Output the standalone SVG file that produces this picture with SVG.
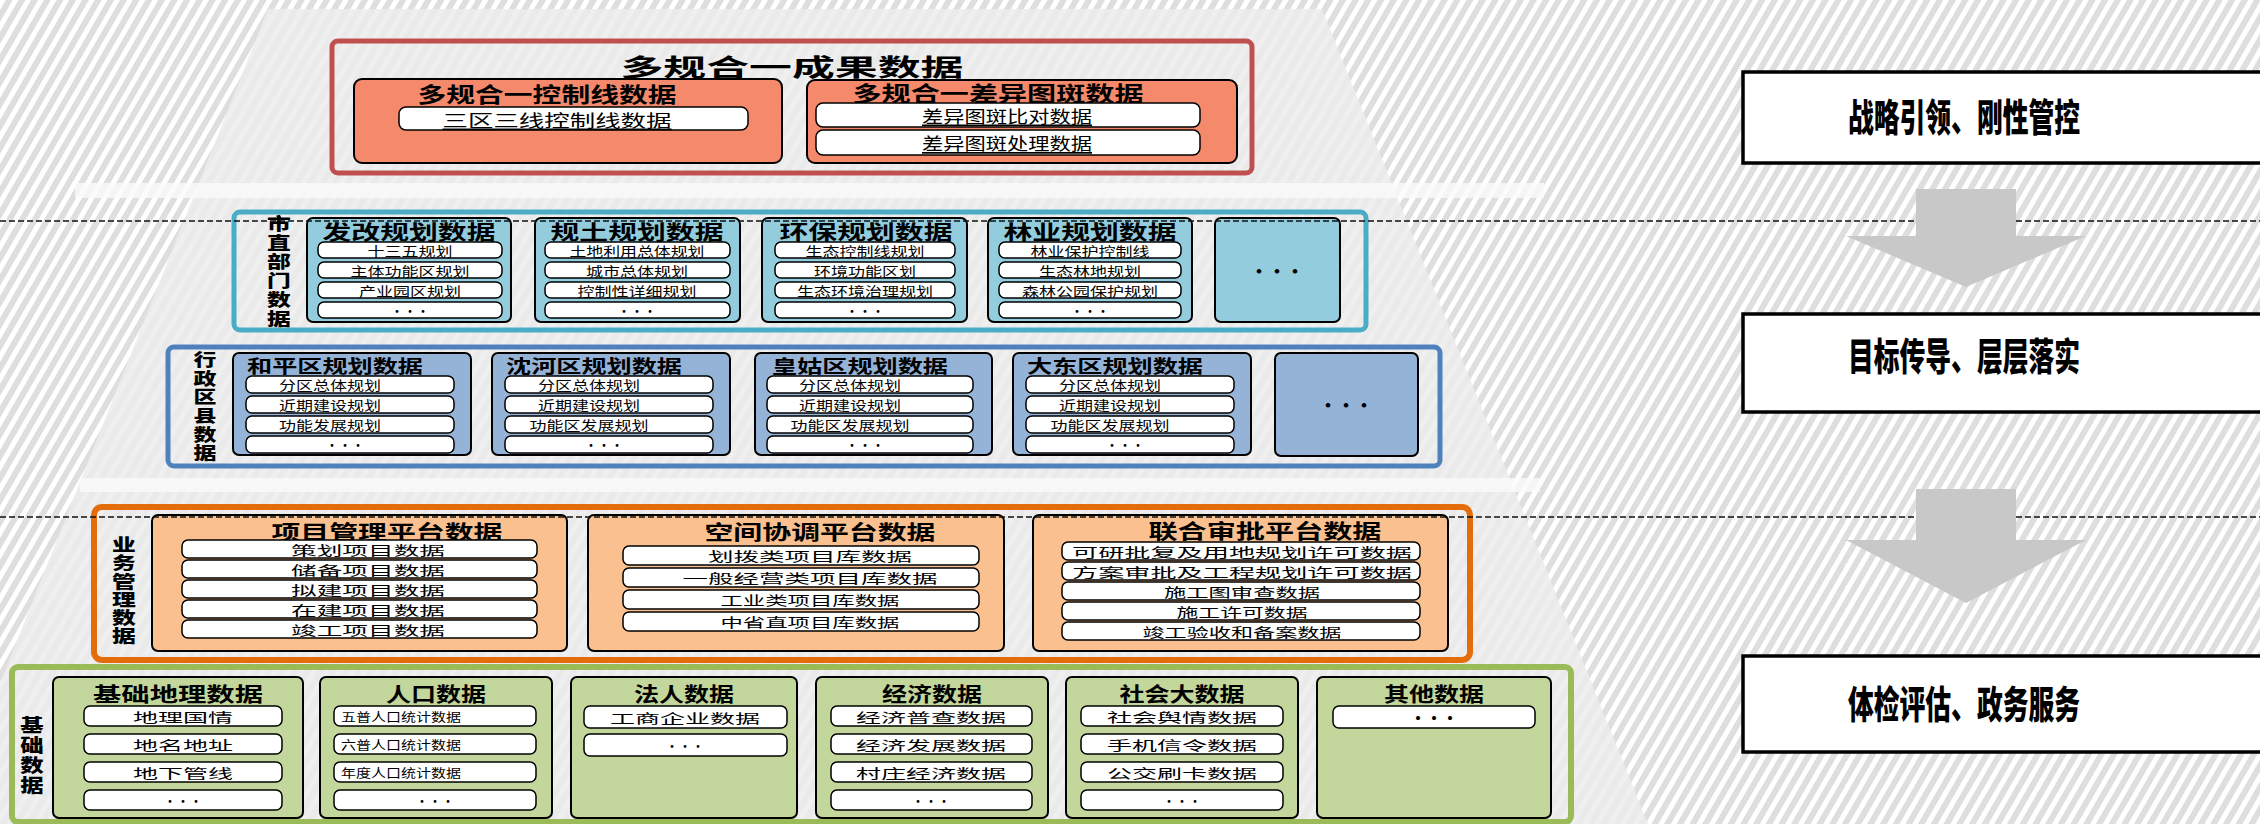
<svg xmlns="http://www.w3.org/2000/svg" width="2260" height="824" viewBox="0 0 2260 824">
<defs>
<pattern id="stripes" width="11" height="11" patternUnits="userSpaceOnUse" patternTransform="rotate(30)">
<rect width="11" height="11" fill="#dedede"/>
<rect width="5" height="11" fill="#ffffff"/>
</pattern>
<style>
text{font-family:"Noto Sans CJK SC","Liberation Sans",sans-serif;dominant-baseline:central;fill:#000}
.h{font-weight:700;text-anchor:middle}
.hs{font-weight:700;text-anchor:start}
.vt{writing-mode:vertical-rl;font-weight:900;font-size:17px;text-anchor:start}
.pt{font-size:13px;text-anchor:middle}
.ps{font-size:17px;text-anchor:middle}
.p{fill:#fff;stroke:#000;stroke-width:1.5}
.ib{stroke:#000;stroke-width:2}
.sal{fill:#F4896B}
.tea{fill:#93CDDD}
.blu{fill:#95B3D7}
.ora{fill:#FAC090}
.grn{fill:#C3D69B}
.rb{fill:#fff;stroke:#000;stroke-width:3.5}
.rt{font-size:38px;font-weight:900;text-anchor:middle}
.dash{stroke:#111;stroke-width:1.5;stroke-dasharray:6 3;fill:none}
.arrow{fill:#C8C8C8}
</style>
</defs>
<rect width="2260" height="824" fill="url(#stripes)"/>
<g id="pyramid">
<polygon points="268,9 1322,9 1648,824 -56,824" fill="#ececec" opacity="0.85"/>
<rect x="75" y="183" width="1469" height="15" fill="#fafafa" opacity="0.8"/>
<rect x="80" y="478" width="1460" height="14" fill="#fafafa" opacity="0.8"/>
</g>

<g id="node-result">
<rect x="332" y="41" width="920" height="132" rx="6" fill="none" stroke="#C0504D" stroke-width="5"/>
<text x="792" y="65" font-size="24" textLength="343" lengthAdjust="spacingAndGlyphs" class="h">多规合一成果数据</text>
</g>
<g id="node-ctrl">
<rect x="354" y="79" width="428" height="84" rx="8" class="sal ib"/>
<text x="547" y="93" font-size="21" textLength="259" lengthAdjust="spacingAndGlyphs" class="h">多规合一控制线数据</text>
<rect x="399" y="107" width="349" height="23" rx="7" class="p"/>
<text x="557" y="119" textLength="229" lengthAdjust="spacingAndGlyphs" class="ps" text-decoration="underline">三区三线控制线数据</text>
</g>
<g id="node-diff">
<rect x="807" y="80" width="430" height="83" rx="8" class="sal ib"/>
<text x="998" y="92" font-size="21" textLength="291" lengthAdjust="spacingAndGlyphs" class="h">多规合一差异图斑数据</text>
<rect x="816" y="103" width="384" height="24" rx="7" class="p"/>
<text x="1007" y="115" textLength="170" lengthAdjust="spacingAndGlyphs" class="ps" text-decoration="underline">差异图斑比对数据</text>
<rect x="816" y="130" width="384" height="25" rx="7" class="p"/>
<text x="1007" y="142.5" textLength="170" lengthAdjust="spacingAndGlyphs" class="ps" text-decoration="underline">差异图斑处理数据</text>
</g>

<g id="node-city">
<rect x="234" y="212" width="1132" height="118" rx="6" fill="none" stroke="#4BACC6" stroke-width="5"/>
<text class="vt" x="0" y="215" transform="translate(279,0) scale(1.4,1)" style="letter-spacing:2px">市直部门数据</text>
</g>
<g id="node-fagai">
<rect x="307" y="218" width="204" height="104" rx="6" class="tea ib"/>
<text x="409" y="231" font-size="20" textLength="173" lengthAdjust="spacingAndGlyphs" class="h">发改规划数据</text>
<rect x="318" y="242" width="184" height="16" rx="6" class="p"/>
<text x="410" y="250" textLength="85" lengthAdjust="spacingAndGlyphs" class="pt">十三五规划</text>
<rect x="318" y="262" width="184" height="16" rx="6" class="p"/>
<text x="410" y="270" textLength="119" lengthAdjust="spacingAndGlyphs" class="pt">主体功能区规划</text>
<rect x="318" y="282" width="184" height="16" rx="6" class="p"/>
<text x="410" y="290" textLength="102" lengthAdjust="spacingAndGlyphs" class="pt">产业园区规划</text>
<rect x="318" y="302" width="184" height="16" rx="6" class="p"/>
<text x="410" y="310" class="pt">···</text>
</g>
<g id="node-guitu">
<rect x="535" y="218" width="205" height="104" rx="6" class="tea ib"/>
<text x="637" y="231" font-size="20" textLength="173" lengthAdjust="spacingAndGlyphs" class="h">规土规划数据</text>
<rect x="545" y="242" width="185" height="16" rx="6" class="p"/>
<text x="637" y="250" textLength="135" lengthAdjust="spacingAndGlyphs" class="pt">土地利用总体规划</text>
<rect x="545" y="262" width="185" height="16" rx="6" class="p"/>
<text x="637" y="270" textLength="102" lengthAdjust="spacingAndGlyphs" class="pt">城市总体规划</text>
<rect x="545" y="282" width="185" height="16" rx="6" class="p"/>
<text x="637" y="290" textLength="119" lengthAdjust="spacingAndGlyphs" class="pt">控制性详细规划</text>
<rect x="545" y="302" width="185" height="16" rx="6" class="p"/>
<text x="637" y="310" class="pt">···</text>
</g>
<g id="node-huanbao">
<rect x="762" y="218" width="205" height="104" rx="6" class="tea ib"/>
<text x="866" y="231" font-size="20" textLength="173" lengthAdjust="spacingAndGlyphs" class="h">环保规划数据</text>
<rect x="775" y="242" width="180" height="16" rx="6" class="p"/>
<text x="865" y="250" textLength="119" lengthAdjust="spacingAndGlyphs" class="pt">生态控制线规划</text>
<rect x="775" y="262" width="180" height="16" rx="6" class="p"/>
<text x="865" y="270" textLength="102" lengthAdjust="spacingAndGlyphs" class="pt">环境功能区划</text>
<rect x="775" y="282" width="180" height="16" rx="6" class="p"/>
<text x="865" y="290" textLength="136" lengthAdjust="spacingAndGlyphs" class="pt">生态环境治理规划</text>
<rect x="775" y="302" width="180" height="16" rx="6" class="p"/>
<text x="865" y="310" class="pt">···</text>
</g>
<g id="node-linye">
<rect x="988" y="218" width="204" height="104" rx="6" class="tea ib"/>
<text x="1090" y="231" font-size="20" textLength="173" lengthAdjust="spacingAndGlyphs" class="h">林业规划数据</text>
<rect x="999" y="242" width="182" height="16" rx="6" class="p"/>
<text x="1090" y="250" textLength="119" lengthAdjust="spacingAndGlyphs" class="pt">林业保护控制线</text>
<rect x="999" y="262" width="182" height="16" rx="6" class="p"/>
<text x="1090" y="270" textLength="102" lengthAdjust="spacingAndGlyphs" class="pt">生态林地规划</text>
<rect x="999" y="282" width="182" height="16" rx="6" class="p"/>
<text x="1090" y="290" textLength="136" lengthAdjust="spacingAndGlyphs" class="pt">森林公园保护规划</text>
<rect x="999" y="302" width="182" height="16" rx="6" class="p"/>
<text x="1090" y="310" class="pt">···</text>
</g>
<g id="node-city-more">
<rect x="1215" y="218" width="125" height="104" rx="6" class="tea ib"/>
<text x="1277" y="270" font-size="18" class="h">···</text>
</g>

<g id="node-district">
<rect x="168" y="347" width="1272" height="119" rx="6" fill="none" stroke="#4F81BD" stroke-width="5"/>
<text class="vt" x="0" y="351" transform="translate(205,0) scale(1.35,1)" style="letter-spacing:1.7px">行政区县数据</text>
</g>
<g id="node-heping">
<rect x="233" y="353" width="238" height="102" rx="6" class="blu ib"/>
<text x="247" y="365" font-size="18" textLength="176" lengthAdjust="spacingAndGlyphs" class="hs">和平区规划数据</text>
<rect x="246" y="376" width="208" height="17" rx="6" class="p"/>
<text x="330" y="384.5" textLength="102" lengthAdjust="spacingAndGlyphs" class="pt">分区总体规划</text>
<rect x="246" y="396" width="208" height="17" rx="6" class="p"/>
<text x="330" y="404.5" textLength="102" lengthAdjust="spacingAndGlyphs" class="pt">近期建设规划</text>
<rect x="246" y="416" width="208" height="17" rx="6" class="p"/>
<text x="330" y="424.5" textLength="102" lengthAdjust="spacingAndGlyphs" class="pt">功能发展规划</text>
<rect x="246" y="436" width="208" height="17" rx="6" class="p"/>
<text x="345" y="444.5" class="pt">···</text>
</g>
<g id="node-shenhe">
<rect x="492" y="353" width="238" height="102" rx="6" class="blu ib"/>
<text x="506" y="365" font-size="18" textLength="176" lengthAdjust="spacingAndGlyphs" class="hs">沈河区规划数据</text>
<rect x="505" y="376" width="208" height="17" rx="6" class="p"/>
<text x="589" y="384.5" textLength="102" lengthAdjust="spacingAndGlyphs" class="pt">分区总体规划</text>
<rect x="505" y="396" width="208" height="17" rx="6" class="p"/>
<text x="589" y="404.5" textLength="102" lengthAdjust="spacingAndGlyphs" class="pt">近期建设规划</text>
<rect x="505" y="416" width="208" height="17" rx="6" class="p"/>
<text x="589" y="424.5" textLength="119" lengthAdjust="spacingAndGlyphs" class="pt">功能区发展规划</text>
<rect x="505" y="436" width="208" height="17" rx="6" class="p"/>
<text x="604" y="444.5" class="pt">···</text>
</g>
<g id="node-huanggu">
<rect x="755" y="353" width="237" height="102" rx="6" class="blu ib"/>
<text x="772" y="365" font-size="18" textLength="176" lengthAdjust="spacingAndGlyphs" class="hs">皇姑区规划数据</text>
<rect x="767" y="376" width="206" height="17" rx="6" class="p"/>
<text x="850" y="384.5" textLength="102" lengthAdjust="spacingAndGlyphs" class="pt">分区总体规划</text>
<rect x="767" y="396" width="206" height="17" rx="6" class="p"/>
<text x="850" y="404.5" textLength="102" lengthAdjust="spacingAndGlyphs" class="pt">近期建设规划</text>
<rect x="767" y="416" width="206" height="17" rx="6" class="p"/>
<text x="850" y="424.5" textLength="119" lengthAdjust="spacingAndGlyphs" class="pt">功能区发展规划</text>
<rect x="767" y="436" width="206" height="17" rx="6" class="p"/>
<text x="865" y="444.5" class="pt">···</text>
</g>
<g id="node-dadong">
<rect x="1013" y="353" width="238" height="102" rx="6" class="blu ib"/>
<text x="1027" y="365" font-size="18" textLength="176" lengthAdjust="spacingAndGlyphs" class="hs">大东区规划数据</text>
<rect x="1026" y="376" width="208" height="17" rx="6" class="p"/>
<text x="1110" y="384.5" textLength="102" lengthAdjust="spacingAndGlyphs" class="pt">分区总体规划</text>
<rect x="1026" y="396" width="208" height="17" rx="6" class="p"/>
<text x="1110" y="404.5" textLength="102" lengthAdjust="spacingAndGlyphs" class="pt">近期建设规划</text>
<rect x="1026" y="416" width="208" height="17" rx="6" class="p"/>
<text x="1110" y="424.5" textLength="119" lengthAdjust="spacingAndGlyphs" class="pt">功能区发展规划</text>
<rect x="1026" y="436" width="208" height="17" rx="6" class="p"/>
<text x="1125" y="444.5" class="pt">···</text>
</g>
<g id="node-district-more">
<rect x="1275" y="353" width="143" height="103" rx="6" class="blu ib"/>
<text x="1346" y="404" font-size="18" class="h">···</text>
</g>

<g id="node-business">
<rect x="94" y="507" width="1376" height="153" rx="8" fill="none" stroke="#E46C0A" stroke-width="6"/>
<text class="vt" x="0" y="536" transform="translate(124,0) scale(1.4,1)" style="letter-spacing:1.3px">业务管理数据</text>
</g>
<g id="node-project">
<rect x="152" y="515" width="415" height="136" rx="6" class="ora ib"/>
<text x="387" y="531" font-size="20" textLength="231" lengthAdjust="spacingAndGlyphs" class="h">项目管理平台数据</text>
<rect x="182" y="540" width="355" height="18" rx="6" class="p"/>
<text x="368" y="549" font-size="16" textLength="154" lengthAdjust="spacingAndGlyphs" class="pt">策划项目数据</text>
<rect x="182" y="560" width="355" height="18" rx="6" class="p"/>
<text x="368" y="569" font-size="16" textLength="154" lengthAdjust="spacingAndGlyphs" class="pt">储备项目数据</text>
<rect x="182" y="580" width="355" height="18" rx="6" class="p"/>
<text x="368" y="589" font-size="16" textLength="154" lengthAdjust="spacingAndGlyphs" class="pt">拟建项目数据</text>
<rect x="182" y="600" width="355" height="18" rx="6" class="p"/>
<text x="368" y="609" font-size="16" textLength="154" lengthAdjust="spacingAndGlyphs" class="pt">在建项目数据</text>
<rect x="182" y="620" width="355" height="18" rx="6" class="p"/>
<text x="368" y="629" font-size="16" textLength="154" lengthAdjust="spacingAndGlyphs" class="pt">竣工项目数据</text>
</g>
<g id="node-space">
<rect x="588" y="515" width="416" height="136" rx="6" class="ora ib"/>
<text x="820" y="531" font-size="20" textLength="231" lengthAdjust="spacingAndGlyphs" class="h">空间协调平台数据</text>
<rect x="623" y="546" width="356" height="19" rx="6" class="p"/>
<text x="810" y="555.5" font-size="16" textLength="204" lengthAdjust="spacingAndGlyphs" class="pt">划拨类项目库数据</text>
<rect x="623" y="568" width="356" height="19" rx="6" class="p"/>
<text x="810" y="577.5" font-size="16" textLength="255" lengthAdjust="spacingAndGlyphs" class="pt">一般经营类项目库数据</text>
<rect x="623" y="590" width="356" height="19" rx="6" class="p"/>
<text x="810" y="599.5" font-size="16" textLength="179" lengthAdjust="spacingAndGlyphs" class="pt">工业类项目库数据</text>
<rect x="623" y="612" width="356" height="19" rx="6" class="p"/>
<text x="810" y="621.5" font-size="16" textLength="179" lengthAdjust="spacingAndGlyphs" class="pt">中省直项目库数据</text>
</g>
<g id="node-approval">
<rect x="1033" y="515" width="415" height="136" rx="6" class="ora ib"/>
<text x="1265" y="530" font-size="20" textLength="233" lengthAdjust="spacingAndGlyphs" class="h">联合审批平台数据</text>
<rect x="1062" y="542" width="358" height="18" rx="6" class="p"/>
<text x="1242" y="551" font-size="17" textLength="340" lengthAdjust="spacingAndGlyphs" class="pt">可研批复及用地规划许可数据</text>
<rect x="1062" y="562" width="358" height="18" rx="6" class="p"/>
<text x="1242" y="571" font-size="17" textLength="340" lengthAdjust="spacingAndGlyphs" class="pt">方案审批及工程规划许可数据</text>
<rect x="1062" y="582" width="358" height="18" rx="6" class="p"/>
<text x="1242" y="591" font-size="17" textLength="156" lengthAdjust="spacingAndGlyphs" class="pt">施工图审查数据</text>
<rect x="1062" y="602" width="358" height="18" rx="6" class="p"/>
<text x="1242" y="611" font-size="17" textLength="131" lengthAdjust="spacingAndGlyphs" class="pt">施工许可数据</text>
<rect x="1062" y="622" width="358" height="18" rx="6" class="p"/>
<text x="1242" y="631" font-size="17" textLength="199" lengthAdjust="spacingAndGlyphs" class="pt">竣工验收和备案数据</text>
</g>

<g id="node-base">
<rect x="12" y="667" width="1559" height="155" rx="6" fill="none" stroke="#9BBB59" stroke-width="6"/>
<text class="vt" x="0" y="716" transform="translate(32,0) scale(1.3,1)" style="font-size:18px;letter-spacing:2px">基础数据</text>
</g>
<g id="node-geo">
<rect x="53" y="677" width="250" height="141" rx="6" class="grn ib"/>
<text x="178" y="693" font-size="20" textLength="170" lengthAdjust="spacingAndGlyphs" class="h">基础地理数据</text>
<rect x="84" y="706" width="198" height="20" rx="6" class="p"/>
<text x="183" y="716" font-size="17" textLength="100" lengthAdjust="spacingAndGlyphs" class="pt">地理国情</text>
<rect x="84" y="734" width="198" height="20" rx="6" class="p"/>
<text x="183" y="744" font-size="17" textLength="100" lengthAdjust="spacingAndGlyphs" class="pt">地名地址</text>
<rect x="84" y="762" width="198" height="20" rx="6" class="p"/>
<text x="183" y="772" font-size="17" textLength="100" lengthAdjust="spacingAndGlyphs" class="pt">地下管线</text>
<rect x="84" y="790" width="198" height="20" rx="6" class="p"/>
<text x="183" y="800" class="pt">···</text>
</g>
<g id="node-pop">
<rect x="320" y="677" width="232" height="141" rx="6" class="grn ib"/>
<text x="436" y="693" font-size="20" textLength="100" lengthAdjust="spacingAndGlyphs" class="h">人口数据</text>
<rect x="334" y="706" width="202" height="20" rx="6" class="p"/>
<text x="341" y="716" font-size="12" textLength="120" lengthAdjust="spacingAndGlyphs" class="hs" style="font-weight:400">五普人口统计数据</text>
<rect x="334" y="734" width="202" height="20" rx="6" class="p"/>
<text x="341" y="744" font-size="12" textLength="120" lengthAdjust="spacingAndGlyphs" class="hs" style="font-weight:400">六普人口统计数据</text>
<rect x="334" y="762" width="202" height="20" rx="6" class="p"/>
<text x="341" y="772" font-size="12" textLength="120" lengthAdjust="spacingAndGlyphs" class="hs" style="font-weight:400">年度人口统计数据</text>
<rect x="334" y="790" width="202" height="20" rx="6" class="p"/>
<text x="435" y="800" class="pt">···</text>
</g>
<g id="node-legal">
<rect x="571" y="677" width="226" height="141" rx="6" class="grn ib"/>
<text x="684" y="693" font-size="20" textLength="100" lengthAdjust="spacingAndGlyphs" class="h">法人数据</text>
<rect x="584" y="706" width="203" height="22" rx="6" class="p"/>
<text x="685" y="717" font-size="17" textLength="150" lengthAdjust="spacingAndGlyphs" class="pt">工商企业数据</text>
<rect x="584" y="734" width="203" height="22" rx="6" class="p"/>
<text x="685" y="745" class="pt">···</text>
</g>
<g id="node-econ">
<rect x="816" y="677" width="232" height="141" rx="6" class="grn ib"/>
<text x="932" y="693" font-size="20" textLength="100" lengthAdjust="spacingAndGlyphs" class="h">经济数据</text>
<rect x="831" y="706" width="201" height="20" rx="6" class="p"/>
<text x="931" y="716" font-size="17" textLength="150" lengthAdjust="spacingAndGlyphs" class="pt">经济普查数据</text>
<rect x="831" y="734" width="201" height="20" rx="6" class="p"/>
<text x="931" y="744" font-size="17" textLength="150" lengthAdjust="spacingAndGlyphs" class="pt">经济发展数据</text>
<rect x="831" y="762" width="201" height="20" rx="6" class="p"/>
<text x="931" y="772" font-size="17" textLength="150" lengthAdjust="spacingAndGlyphs" class="pt">村庄经济数据</text>
<rect x="831" y="790" width="201" height="20" rx="6" class="p"/>
<text x="931" y="800" class="pt">···</text>
</g>
<g id="node-social">
<rect x="1066" y="677" width="232" height="141" rx="6" class="grn ib"/>
<text x="1182" y="693" font-size="20" textLength="125" lengthAdjust="spacingAndGlyphs" class="h">社会大数据</text>
<rect x="1081" y="706" width="202" height="20" rx="6" class="p"/>
<text x="1182" y="716" font-size="17" textLength="150" lengthAdjust="spacingAndGlyphs" class="pt">社会舆情数据</text>
<rect x="1081" y="734" width="202" height="20" rx="6" class="p"/>
<text x="1182" y="744" font-size="17" textLength="150" lengthAdjust="spacingAndGlyphs" class="pt">手机信令数据</text>
<rect x="1081" y="762" width="202" height="20" rx="6" class="p"/>
<text x="1182" y="772" font-size="17" textLength="150" lengthAdjust="spacingAndGlyphs" class="pt">公交刷卡数据</text>
<rect x="1081" y="790" width="202" height="20" rx="6" class="p"/>
<text x="1182" y="800" class="pt">···</text>
</g>
<g id="node-other">
<rect x="1317" y="677" width="234" height="141" rx="6" class="grn ib"/>
<text x="1434" y="693" font-size="20" textLength="100" lengthAdjust="spacingAndGlyphs" class="h">其他数据</text>
<rect x="1333" y="706" width="202" height="22" rx="6" class="p"/>
<text x="1434" y="717" font-size="16" class="h">···</text>
</g>

<g id="connectors">
<line x1="0" y1="221" x2="2260" y2="221" class="dash"/>
<line x1="0" y1="517" x2="2260" y2="517" class="dash"/>
<polygon class="arrow" points="1916,189 2016,189 2016,236 2086,236 1966,287 1846,236 1916,236"/>
<polygon class="arrow" points="1916,489 2016,489 2016,540 2086,540 1966,603 1846,540 1916,540"/>
</g>

<g id="node-goal1">
<rect x="1743" y="72" width="520" height="91" class="rb"/>
<text x="1964" y="114" textLength="232" lengthAdjust="spacingAndGlyphs" class="rt">战略引领、刚性管控</text>
</g>
<g id="node-goal2">
<rect x="1743" y="314" width="520" height="98" class="rb"/>
<text x="1964" y="353" textLength="232" lengthAdjust="spacingAndGlyphs" class="rt">目标传导、层层落实</text>
</g>
<g id="node-goal3">
<rect x="1743" y="656" width="520" height="96" class="rb"/>
<text x="1964" y="701" textLength="232" lengthAdjust="spacingAndGlyphs" class="rt">体检评估、政务服务</text>
</g>
</svg>
